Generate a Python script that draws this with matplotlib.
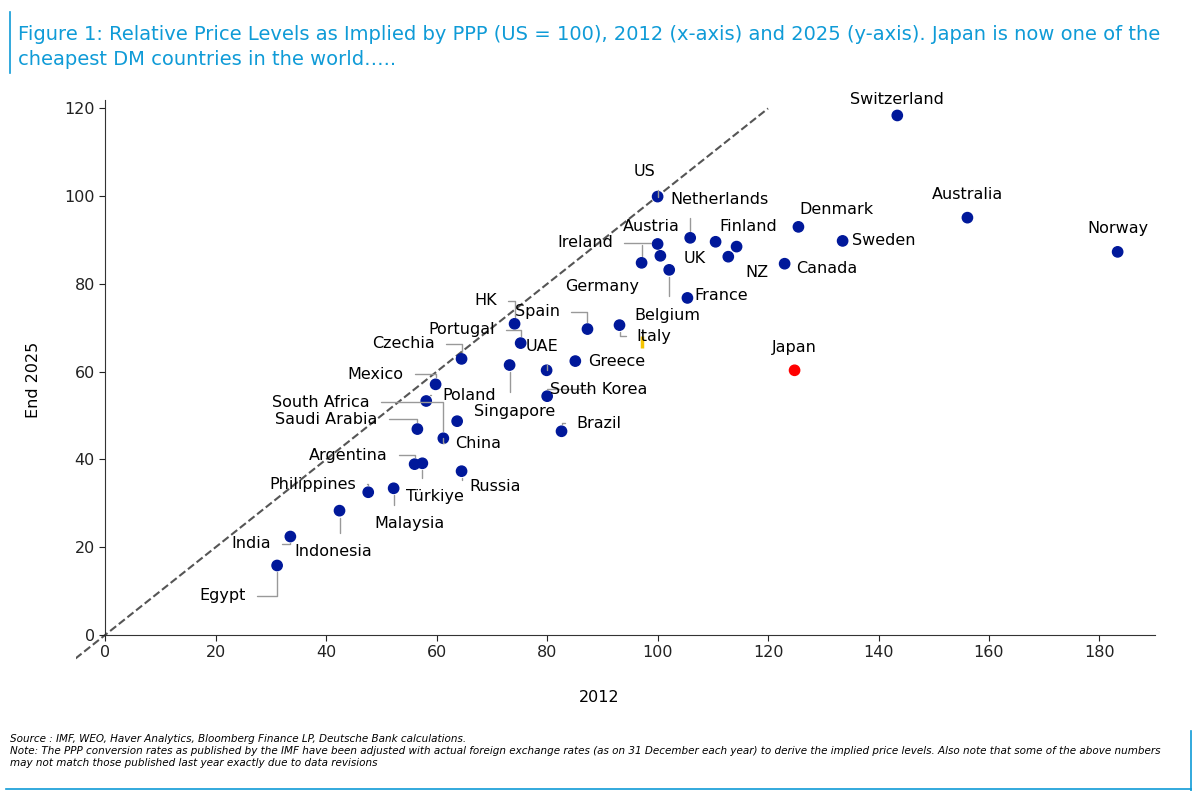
import matplotlib.pyplot as plt
from matplotlib.lines import Line2D

names = ["Switzerland","Australia","Norway","Denmark","Sweden","Canada","Japan","US","Netherlands","Finland","X1","NZ","Austria","UK","Ireland","Germany","France","Italy","Spain","HK","Portugal","Czechia","UAE","Singapore","Greece","South Korea","Brazil","Mexico","Poland","Saudi Arabia","South Africa","China","Argentina","Argentina2","Russia","Philippines","Türkiye","Malaysia","India","Egypt"]
x2012 = [143.4,156.1,183.3,125.5,133.5,123.0,124.8,100.0,105.9,110.5,114.3,112.8,100.0,100.5,97.1,102.1,105.4,93.1,87.3,74.1,75.2,64.5,79.9,73.2,85.1,80.0,82.6,59.8,58.1,56.5,63.7,61.2,56.0,57.4,64.5,47.6,52.2,42.4,33.5,31.1]
y2025 = [118.4,95.1,87.3,93.0,89.8,84.6,60.3,99.9,90.5,89.6,88.5,86.2,89.1,86.4,84.8,83.2,76.8,70.6,69.7,70.9,66.5,62.9,60.3,61.5,62.4,54.4,46.4,57.1,53.3,46.9,48.7,44.8,38.9,39.1,37.3,32.5,33.4,28.3,22.4,15.8]

labels = [("Switzerland",0,143.4,122.1,False),("Australia",1,156.1,100.3,False),("Norway",2,183.4,92.6,False),
 ("Denmark",3,132.4,96.9,False),("Sweden",4,140.9,89.8,False),("Canada",5,130.7,83.4,False),("Japan",6,124.8,65.6,False),
 ("US",7,97.6,105.6,True),("Netherlands",8,111.2,99.2,True),("Finland",9,116.4,93.0,False),("NZ",11,117.9,82.7,False),
 ("Austria",14,98.9,93.0,True),("Ireland",12,86.9,89.4,True),("UK",13,106.8,85.7,False),("Germany",15,90.0,79.5,False),
 ("France",16,111.5,77.3,False),("Belgium",15,101.8,72.9,True),("Italy",17,99.4,68.1,True),("Spain",18,78.2,73.6,True),
 ("HK",19,68.8,76.1,True),("Portugal",20,64.5,69.5,True),("Czechia",21,54.0,66.3,True),("UAE",22,79.1,65.8,True),
 ("Greece",24,92.5,62.4,False),("Singapore",23,74.1,51.0,True),("South Korea",25,89.3,56.0,True),("Brazil",26,89.3,48.2,True),
 ("Mexico",27,48.9,59.4,True),("Poland",28,65.9,54.6,True),("South Africa",31,39.1,53.0,True),("Saudi Arabia",29,40.0,49.1,True),
 ("China",31,67.5,43.7,True),("Argentina",32,44.0,40.9,True),("Russia",34,70.6,33.8,True),("Philippines",35,37.5,34.3,True),
 ("Türkiye",33,59.6,31.5,True),("Malaysia",36,55.0,25.4,True),("Indonesia",37,41.3,19.0,True),("India",38,26.4,20.8,True),
 ("Egypt",39,21.2,8.9,True)]

fig = plt.figure(figsize=(11.99,7.91), dpi=100)
ax = fig.add_axes([0.063,0.162,0.90,0.712])
ax.set_xlim(-5.4,190); ax.set_ylim(-6.4,122)
for s in ["top","right"]: ax.spines[s].set_visible(False)
ax.spines["left"].set_position(("data",0)); ax.spines["bottom"].set_position(("data",0))
ax.spines["bottom"].set_bounds(0,190); ax.spines["left"].set_bounds(0,122)
for s in ["left","bottom"]: ax.spines[s].set_color("#333333")
ax.set_xticks(range(0,181,20)); ax.set_yticks(range(0,121,20))
ax.tick_params(labelsize=11.5, colors="#222222", length=4)
ax.plot([-5.4,120],[-5.4,120], ls="--", color="#555555", lw=1.5, zorder=1)
cols = ["red" if n=="Japan" else "#00189a" for n in names]
ax.scatter(x2012, y2025, s=55, c=cols, zorder=3)
ax.plot([97.1],[66.7], marker="|", color="#f5c400", ms=8, mew=2.5)
for lab,i,tx,ty,lead in labels:
    if lead:
        ax.annotate(lab,(x2012[i],y2025[i]),(tx,ty),ha="center",va="center",fontsize=11.5,
                    arrowprops=dict(arrowstyle="-",color="#999999",lw=1,shrinkA=6,shrinkB=5,
                                    connectionstyle="angle,angleA=0,angleB=90,rad=0"))
    else:
        ax.text(tx,ty,lab,ha="center",va="center",fontsize=11.5)
fig.text(0.5,0.112,"2012",ha="center",fontsize=11.5)
fig.text(0.022,0.52,"End 2025",rotation=90,va="center",fontsize=11.5)
fig.text(0.015,0.968,"Figure 1: Relative Price Levels as Implied by PPP (US = 100), 2012 (x-axis) and 2025 (y-axis). Japan is now one of the\ncheapest DM countries in the world…..",
         color="#0f9bd7",fontsize=14,va="top",linespacing=1.35)
fig.add_artist(Line2D([0.008,0.008],[0.908,0.985],color="#0f9bd7",lw=1.2))
fig.text(0.008,0.072,"Source : IMF, WEO, Haver Analytics, Bloomberg Finance LP, Deutsche Bank calculations.\nNote: The PPP conversion rates as published by the IMF have been adjusted with actual foreign exchange rates (as on 31 December each year) to derive the implied price levels. Also note that some of the above numbers\nmay not match those published last year exactly due to data revisions",
         fontsize=7.5, style="italic", va="top", linespacing=1.25)
fig.add_artist(Line2D([0.993,0.993],[0.0,0.076],color="#0f9bd7",lw=1.2))
fig.add_artist(Line2D([0.005,0.993],[0.003,0.003],color="#0f9bd7",lw=1.2))
fig.savefig("out.png")
